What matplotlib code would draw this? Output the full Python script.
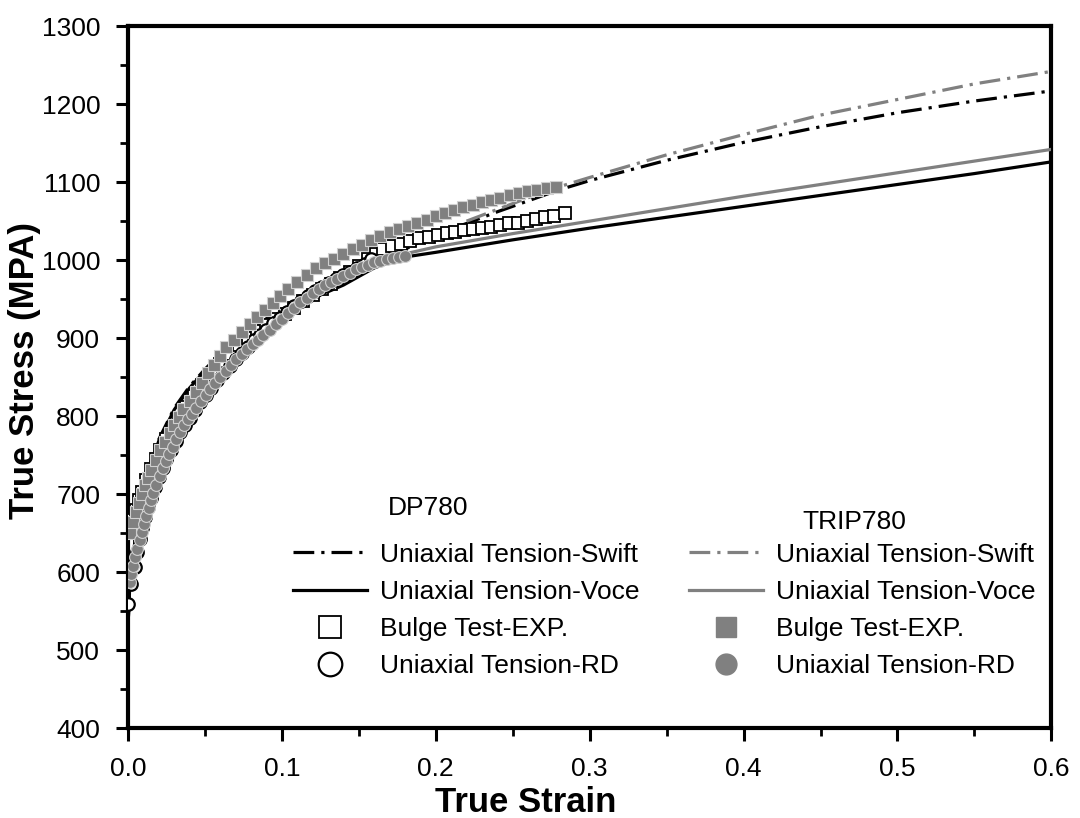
import matplotlib
matplotlib.use("Agg")
import matplotlib.pyplot as plt
from matplotlib.lines import Line2D

plt.rcParams['font.family'] = ['Liberation Sans', 'DejaVu Sans']

# DP780 fitted curves
dp_swift_strain = [0.0, 0.001, 0.002, 0.004, 0.007, 0.01, 0.015, 0.02, 0.03, 0.04, 0.05, 0.06, 0.07, 0.08,
                   0.09, 0.1, 0.12, 0.14, 0.16, 0.18, 0.2, 0.22, 0.24, 0.26, 0.28, 0.3, 0.35, 0.4, 0.45,
                   0.5, 0.55, 0.6]
dp_swift_stress = [530, 575, 600, 632, 672, 705, 743, 770, 810, 838, 860, 880, 897, 912,
                   925, 937, 959, 979, 997, 1014, 1033, 1047, 1062, 1076, 1090, 1102, 1128, 1151, 1171,
                   1189, 1204, 1217]
dp_voce_strain = [0.0, 0.001, 0.002, 0.004, 0.007, 0.01, 0.015, 0.02, 0.03, 0.04, 0.05, 0.06, 0.07, 0.08,
                  0.09, 0.1, 0.12, 0.14, 0.16, 0.18, 0.2, 0.25, 0.3, 0.35, 0.4, 0.45, 0.5, 0.55, 0.6]
dp_voce_stress = [530, 575, 600, 630, 668, 700, 740, 768, 808, 836, 858, 877, 893, 907,
                  920, 931, 951, 968, 990, 1004, 1010, 1026, 1041, 1055, 1069, 1083, 1097, 1111, 1126]

# TRIP780 fitted curves
trip_swift_strain = [0.22, 0.24, 0.26, 0.28, 0.3, 0.35, 0.4, 0.45, 0.5, 0.55, 0.6]
trip_swift_stress = [1050, 1065, 1080, 1094, 1106, 1135, 1161, 1186, 1206, 1226, 1242]
trip_voce_strain = [0.18, 0.2, 0.25, 0.3, 0.35, 0.4, 0.45, 0.5, 0.55, 0.6]
trip_voce_stress = [1008, 1017, 1034, 1050, 1066, 1082, 1097, 1112, 1127, 1142]

# DP780 bulge test
dp_bulge_strain = [0.001, 0.003, 0.005, 0.007, 0.009, 0.012, 0.015, 0.018, 0.021, 0.025, 0.029, 0.033,
                   0.038, 0.043, 0.048, 0.054, 0.060, 0.066, 0.072, 0.078, 0.084, 0.090, 0.096, 0.102,
                   0.108, 0.114, 0.120, 0.126, 0.132, 0.138, 0.144, 0.150, 0.156, 0.161,
                   0.1655, 0.1715, 0.1774, 0.1835, 0.1893, 0.1954, 0.2013, 0.207, 0.2128, 0.2184,
                   0.224, 0.2298, 0.2357, 0.2415, 0.2474, 0.2532, 0.2591, 0.265, 0.2709, 0.2767, 0.2837]
dp_bulge_stress = [652, 667, 680, 692, 703, 718, 732, 745, 757, 771, 785, 798,
                   812, 826, 840, 854, 867, 880, 891, 900, 909, 917, 924, 931,
                   939, 947, 955, 963, 970, 977, 985, 993, 1001, 1008,
                   1014, 1018, 1021, 1025, 1028, 1030, 1032, 1035, 1036, 1038,
                   1040, 1041, 1043, 1045, 1047, 1048, 1050, 1053, 1055, 1057, 1060]

# DP780 uniaxial tension, rolling direction
dp_rd_strain = [0.0, 0.002, 0.0045, 0.006, 0.0075, 0.009, 0.011, 0.013, 0.015, 0.0175, 0.02, 0.0225,
                0.025, 0.028, 0.031, 0.034, 0.037, 0.04, 0.0435, 0.047, 0.0505, 0.054, 0.058, 0.062,
                0.066, 0.07, 0.074, 0.078, 0.082, 0.086, 0.09, 0.0945, 0.099, 0.1035, 0.108, 0.1125,
                0.117, 0.1215, 0.126, 0.1305, 0.135, 0.1395, 0.144, 0.149, 0.154, 0.158]
dp_rd_stress = [559, 585, 606, 626, 642, 657, 670, 683, 695, 709, 722, 734,
                745, 757, 768, 779, 789, 798, 808, 818, 827, 836, 846, 855,
                864, 873, 881, 889, 897, 904, 911, 919, 926, 933, 941, 948,
                954, 960, 966, 971, 976, 981, 985, 990, 995, 1001]

# TRIP780 bulge test
trip_bulge_strain = [0.001, 0.003, 0.005, 0.007, 0.009, 0.011, 0.013, 0.015, 0.018, 0.021, 0.024, 0.027,
                     0.030, 0.033, 0.036, 0.040, 0.044, 0.048, 0.052, 0.056, 0.060, 0.064, 0.069, 0.074,
                     0.079, 0.084, 0.089, 0.094, 0.099, 0.104, 0.110, 0.116, 0.122, 0.128, 0.134, 0.140,
                     0.146, 0.152, 0.158, 0.164, 0.170, 0.176, 0.182, 0.188, 0.194, 0.200, 0.206, 0.212,
                     0.218, 0.224, 0.230, 0.236, 0.242, 0.248, 0.254, 0.260, 0.266, 0.272, 0.278]
trip_bulge_stress = [650, 664, 677, 689, 700, 711, 721, 731, 744, 756, 767, 778,
                     789, 799, 809, 819, 831, 843, 855, 866, 877, 888, 898, 908,
                     918, 927, 936, 945, 954, 963, 972, 981, 990, 996, 1002, 1008,
                     1014, 1020, 1026, 1031, 1036, 1040, 1044, 1048, 1052, 1056, 1060, 1064,
                     1068, 1071, 1074, 1077, 1080, 1083, 1086, 1088, 1090, 1092, 1094]

# TRIP780 uniaxial tension, rolling direction
trip_rd_strain = [0.001, 0.002, 0.003, 0.0045, 0.006, 0.0075, 0.009, 0.0105, 0.012, 0.0135, 0.015, 0.0165,
                  0.0185, 0.0205, 0.0225, 0.0245, 0.0265, 0.029, 0.0315, 0.034, 0.0365, 0.039, 0.0415,
                  0.0445, 0.0475, 0.0505, 0.0535, 0.0565, 0.06, 0.0635, 0.067, 0.0705, 0.074, 0.0775,
                  0.081, 0.0845, 0.088, 0.092, 0.096, 0.1, 0.104, 0.108, 0.112, 0.116, 0.12, 0.124,
                  0.128, 0.132, 0.136, 0.14, 0.144, 0.148, 0.152, 0.156, 0.16, 0.164, 0.168, 0.172,
                  0.176, 0.18]
trip_rd_stress = [587, 598, 608, 619, 630, 641, 652, 662, 672, 682, 692, 701,
                  712, 723, 733, 743, 752, 761, 770, 779, 788, 796, 803,
                  811, 819, 827, 835, 842, 850, 858, 866, 873, 880, 886,
                  892, 898, 904, 911, 918, 925, 932, 939, 946, 952, 958, 963,
                  968, 972, 976, 980, 984, 988, 991, 994, 997, 999, 1001, 1003,
                  1004, 1005]

gray = '#808080'
dashdot = (0, (6.5, 2.2, 1.0, 2.2))

fig = plt.figure(figsize=(10.8, 8.18), dpi=100)
ax = fig.add_axes([0.1185, 0.110, 0.855, 0.858])

ax.plot(dp_voce_strain, dp_voce_stress, color='black', lw=2.3, zorder=2)
ax.plot(dp_swift_strain, dp_swift_stress, color='black', lw=2.3, linestyle=dashdot, zorder=2)
ax.plot(dp_bulge_strain, dp_bulge_stress, linestyle='none', marker='s', ms=8.5,
        mfc='white', mec='black', mew=1.3, zorder=3)
ax.plot(dp_rd_strain, dp_rd_stress, linestyle='none', marker='o', ms=9,
        mfc='white', mec='black', mew=1.6, zorder=3)
ax.plot(trip_voce_strain, trip_voce_stress, color=gray, lw=2.3, zorder=4)
ax.plot(trip_swift_strain, trip_swift_stress, color=gray, lw=2.3, linestyle=dashdot, zorder=4)
ax.plot(trip_bulge_strain, trip_bulge_stress, linestyle='none', marker='s', ms=8.5,
        mfc=gray, mec='#d0d0d0', mew=0.8, zorder=5)
ax.plot(trip_rd_strain, trip_rd_stress, linestyle='none', marker='o', ms=8.5,
        mfc=gray, mec='#d0d0d0', mew=0.8, zorder=6)

ax.set_xlim(0, 0.6)
ax.set_ylim(400, 1300)
ax.set_xticks([0.0, 0.1, 0.2, 0.3, 0.4, 0.5, 0.6])
ax.set_xticklabels(['0.0', '0.1', '0.2', '0.3', '0.4', '0.5', '0.6'])
ax.set_xticks([0.05, 0.15, 0.25, 0.35, 0.45, 0.55], minor=True)
ax.set_yticks(range(400, 1301, 100))
ax.set_yticks(range(450, 1300, 100), minor=True)
ax.tick_params(which='major', direction='out', length=9, width=2.2, labelsize=19)
ax.tick_params(which='minor', direction='out', length=5.5, width=2.0)
ax.tick_params(axis='x', which='major', pad=12)
ax.tick_params(axis='y', which='major', pad=11)
for s in ax.spines.values():
    s.set_linewidth(3)

ax.set_xlabel('True Strain', fontsize=25, fontweight='bold')
ax.xaxis.set_label_coords(0.431, -0.083)
ax.set_ylabel('True Stress (MPA)', fontsize=25, fontweight='bold')
ax.yaxis.set_label_coords(-0.094, 0.51)

# two legend blocks, one per steel grade
dp_handles = [Line2D([], [], color='black', lw=2.3, linestyle=dashdot),
              Line2D([], [], color='black', lw=2.3),
              Line2D([], [], linestyle='none', marker='s', ms=16, mfc='white', mec='black', mew=1.3),
              Line2D([], [], linestyle='none', marker='o', ms=17, mfc='white', mec='black', mew=1.6)]
trip_handles = [Line2D([], [], color=gray, lw=2.3, linestyle=dashdot),
                Line2D([], [], color=gray, lw=2.3),
                Line2D([], [], linestyle='none', marker='s', ms=15, mfc=gray, mec=gray),
                Line2D([], [], linestyle='none', marker='o', ms=15, mfc=gray, mec=gray)]
labels = ['Uniaxial Tension-Swift', 'Uniaxial Tension-Voce', 'Bulge Test-EXP.', 'Uniaxial Tension-RD']

leg1 = ax.legend(dp_handles, labels, loc='upper left', bbox_to_anchor=(0.1786, 0.264),
                 frameon=False, fontsize=19, handlelength=2.8, handletextpad=0.5,
                 labelspacing=0.5, borderpad=0, borderaxespad=0)
ax.add_artist(leg1)
ax.legend(trip_handles, labels, loc='upper left', bbox_to_anchor=(0.608, 0.264),
          frameon=False, fontsize=19, handlelength=2.8, handletextpad=0.5,
          labelspacing=0.5, borderpad=0, borderaxespad=0)
ax.text(0.325, 0.313, 'DP780', transform=ax.transAxes, fontsize=19, ha='center', va='center')
ax.text(0.787, 0.293, 'TRIP780', transform=ax.transAxes, fontsize=19, ha='center', va='center')

fig.savefig('out.png', dpi=100)
